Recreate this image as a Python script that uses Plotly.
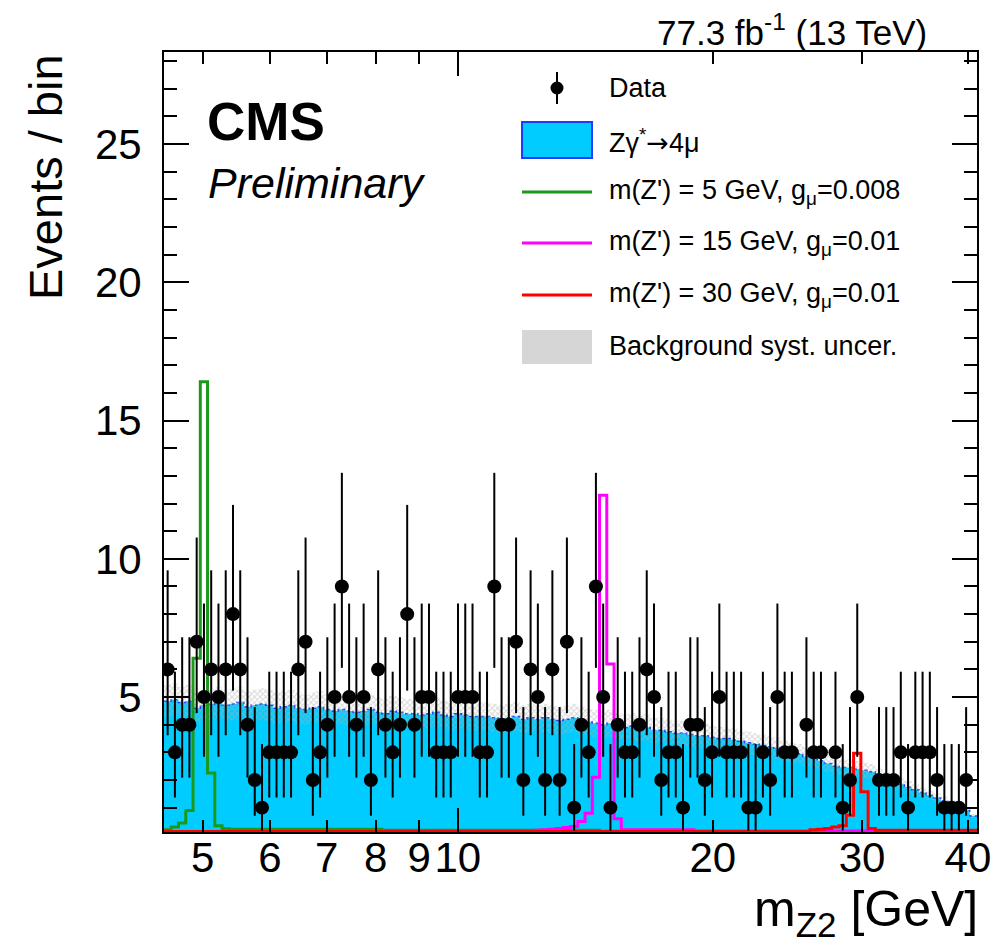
import numpy as np
import plotly.graph_objects as go

# ---------------- data ----------------
N_BINS = 112
X_MIN, X_MAX = 4.5, 41.0

data_counts = [6, 3, 4, 4, 7, 5, 6, 5, 6, 8,
               6, 4, 2, 1, 3, 3, 3, 3, 6, 7,
               2, 3, 4, 5, 9, 5, 4, 5, 2, 6,
               4, 3, 4, 8, 4, 5, 5, 3, 3, 3,
               5, 5, 5, 3, 3, 9, 4, 4, 7, 2,
               6, 5, 2, 6, 2, 7, 1, 4, 3, 9,
               5, 1, 4, 3, 3, 4, 6, 5, 2, 3,
               3, 1, 4, 4, 2, 3, 5, 3, 3, 3,
               1, 1, 3, 2, 5, 3, 3, 0, 4, 3,
               3, 0, 3, 1, 2, 5, 0, 0, 2, 2,
               2, 3, 1, 3, 3, 3, 2, 1, 1, 1,
               2, 0]

bkg_zgamma = [4.85, 4.9, 4.8, 4.85, 4.6,
              4.7, 4.75, 4.8, 4.7, 4.75, 4.8, 4.65, 4.7, 4.75, 4.7,
              4.6, 4.65, 4.7, 4.6, 4.55, 4.6, 4.65, 4.55, 4.5,
              4.55, 4.5, 4.45, 4.5, 4.55, 4.45, 4.4, 4.5, 4.45, 4.4,
              4.4, 4.35, 4.4, 4.45, 4.35, 4.3, 4.4, 4.35, 4.3, 4.3,
              4.3, 4.25, 4.2, 4.25, 4.3, 4.2, 4.25, 4.2, 4.25, 4.2, 4.15, 4.2, 4.25, 4.15,
              4.1, 4.05, 4.0, 4.05, 3.95,
              3.9, 3.95, 3.85, 3.9, 3.8, 3.8, 3.75,
              3.7, 3.7, 3.65, 3.6, 3.6, 3.55,
              3.5, 3.5, 3.45, 3.4, 3.35, 3.3,
              3.25, 3.2, 3.15, 3.05, 3.0, 2.95,
              2.85, 2.8, 2.7, 2.6, 2.5, 2.45,
              2.45, 2.4, 2.35, 2.3, 2.2, 2.05, 1.95, 1.85, 1.75, 1.65,
              1.55, 1.45, 1.35, 1.25, 1.15, 1.05, 0.9, 0.7]
bkg_syst_frac = 0.12

sig_5GeV = [0.2, 0.3, 0.45, 0.9, 6.4, 16.4, 2.25, 0.35, 0.25] + [0.22] * 21 + [0.18] * 30 + [0.15] * 52
sig_15GeV = [0.12] * 51 + [0.18, 0.2, 0.22, 0.25, 0.28, 0.32] + [0.5, 0.8, 2.1, 12.3, 6.2, 0.6] + [0.2] * 10 + [0.15] * 39
sig_30GeV = [0.14] * 89 + [0.2, 0.22, 0.25, 0.3, 0.35] + [0.73, 2.97, 1.58] + [0.25] + [0.18] * 14

# Garwood (Poisson 68%) intervals for small counts
POIS_LO = {1: 0.173, 2: 0.708, 3: 1.367, 4: 2.086, 5: 2.840, 6: 3.620, 7: 4.419, 8: 5.232, 9: 6.057}
POIS_HI = {1: 3.300, 2: 4.638, 3: 5.918, 4: 7.163, 5: 8.382, 6: 9.584, 7: 10.77, 8: 11.95, 9: 13.11}

x_ticks = [5, 6, 7, 8, 9, 10, 20, 30, 40]
y_ticks = [5, 10, 15, 20, 25]
Y_RANGE = [0.12, 28.33]

# ---------------- derived ----------------
edges = np.geomspace(X_MIN, X_MAX, N_BINS + 1)
centers = 0.5 * (edges[:-1] + edges[1:])


def step(vals):
    return list(edges), list(vals) + [vals[-1]]


FONT = "Liberation Sans, Arial, Helvetica, sans-serif"
CYAN = "#00ccff"
BLUE = "#1a3cff"
GREEN = "#1a991a"
MAGENTA = "#ff00ff"
RED = "#ff0000"

fig = go.Figure()

# background histogram
sx, sy = step(bkg_zgamma)
fig.add_trace(go.Scatter(x=sx, y=sy, mode="lines", line=dict(shape="hv", color=BLUE, width=1.5, dash="dot"),
                         fill="tozeroy", fillcolor=CYAN, hoverinfo="skip"))

# systematic band
lo = [b * (1 - bkg_syst_frac) for b in bkg_zgamma]
hi = [b * (1 + bkg_syst_frac) for b in bkg_zgamma]
lx, ly = step(lo)
hx, hy = step(hi)
fig.add_trace(go.Scatter(x=lx, y=ly, mode="lines", line=dict(shape="hv", width=0, color="rgba(0,0,0,0)"),
                         hoverinfo="skip"))
fig.add_trace(go.Scatter(x=hx, y=hy, mode="lines", line=dict(shape="hv", width=0, color="rgba(0,0,0,0)"),
                         fill="tonexty", fillcolor="rgba(0,0,0,0)",
                         fillpattern=dict(shape="x", fgcolor="#b0b0b0", bgcolor="rgba(0,0,0,0)", size=4,
                                          solidity=0.45),
                         hoverinfo="skip"))

# signals
for vals, col in [(sig_5GeV, GREEN), (sig_15GeV, MAGENTA), (sig_30GeV, RED)]:
    qx, qy = step(vals)
    fig.add_trace(go.Scatter(x=qx, y=qy, mode="lines", line=dict(shape="hv", color=col, width=3), hoverinfo="skip"))

# data
dx, dy, eu, ed = [], [], [], []
for c, n in zip(centers, data_counts):
    if n > 0:
        dx.append(c)
        dy.append(n)
        eu.append(POIS_HI[n] - n)
        ed.append(n - POIS_LO[n])
fig.add_trace(go.Scatter(x=dx, y=dy, mode="markers",
                         marker=dict(color="black", size=14, symbol="circle"),
                         error_y=dict(type="data", symmetric=False, array=eu, arrayminus=ed,
                                      width=0, thickness=2, color="black")))

# long tick at the decade (overlay axis)
fig.add_trace(go.Scatter(x=[X_MIN, X_MAX], y=[None, None], xaxis="x2", mode="lines", showlegend=False,
                         hoverinfo="skip"))

# ---------------- layout ----------------
L, R, T, B = 164, 977, 52, 832
W, H = R - L, B - T


def px(x):
    return (x - L) / W


def py(y):
    return (B - y) / H


axis_common = dict(showline=True, linecolor="black", linewidth=2, mirror="ticks", ticks="inside",
                   tickcolor="black", tickwidth=2, showgrid=False, zeroline=False)

fig.update_layout(
    width=1004, height=947,
    margin=dict(l=L, r=1004 - R, t=T, b=947 - B),
    paper_bgcolor="white", plot_bgcolor="white",
    showlegend=False,
    font=dict(family=FONT, color="black"),
    xaxis=dict(type="log", range=[np.log10(X_MIN), np.log10(X_MAX)],
               tickvals=x_ticks, ticktext=[str(v) for v in x_ticks], ticklen=12,
               tickfont=dict(size=42, family=FONT), **axis_common),
    xaxis2=dict(type="log", range=[np.log10(X_MIN), np.log10(X_MAX)], overlaying="x", matches="x",
                tickvals=[10], ticklen=24, showticklabels=False, ticks="inside", tickcolor="black",
                tickwidth=2, showgrid=False, zeroline=False, showline=False, mirror="ticks", side="bottom"),
    yaxis=dict(range=Y_RANGE, tickvals=y_ticks, ticktext=[str(v) for v in y_ticks], ticklen=25,
               tickfont=dict(size=42, family=FONT), ticklabelstandoff=12,
               minor=dict(dtick=1, tick0=0, ticklen=13, ticks="inside", tickcolor="black", tickwidth=2),
               **axis_common),
)
try:
    fig.layout.xaxis.ticklabelstandoff = -12
except ValueError:
    fig.layout.xaxis.ticklabelstandoff = 0

ann = []
shapes = []
# texts
ann.append(dict(text="<b>CMS</b>", x=px(205), y=py(121), xref="paper", yref="paper", xanchor="left",
                yanchor="middle", showarrow=False, font=dict(size=53, family=FONT)))
ann.append(dict(text="<i>Preliminary</i>", x=px(206), y=py(183), xref="paper", yref="paper", xanchor="left",
                yanchor="middle", showarrow=False, font=dict(size=43, family=FONT)))
ann.append(dict(text="77.3 fb<sup>-1</sup> (13 TeV)", x=px(929), y=py(30), xref="paper", yref="paper",
                xanchor="right", yanchor="middle", showarrow=False, font=dict(size=35, family=FONT)))
ann.append(dict(text="Events / bin", x=px(45), y=py(52), xref="paper", yref="paper", xanchor="center",
                yanchor="top", textangle=-90, showarrow=False, font=dict(size=47, family=FONT)))
ann.append(dict(text="m<sub>Z2</sub> [GeV]", x=px(980), y=py(912), xref="paper", yref="paper", xanchor="right",
                yanchor="middle", showarrow=False, font=dict(size=50, family=FONT)))

# legend
LEG_TX = 607
leg_rows = [("Data", 88),
            ("Zγ<sup>*</sup><span style=\"font-family:DejaVu Sans\">→</span>4μ", 141),
            ("m(Z') = 5 GeV, g<sub>μ</sub>=0.008", 192),
            ("m(Z') = 15 GeV, g<sub>μ</sub>=0.01", 243), ("m(Z') = 30 GeV, g<sub>μ</sub>=0.01", 295),
            ("Background syst. uncer.", 346)]
for txt, yc in leg_rows:
    ann.append(dict(text=txt, x=px(LEG_TX), y=py(yc), xref="paper", yref="paper", xanchor="left",
                    yanchor="middle", showarrow=False, font=dict(size=27, family=FONT)))

# data symbol
shapes.append(dict(type="line", xref="paper", yref="paper", x0=px(557), x1=px(557), y0=py(72), y1=py(104),
                   line=dict(color="black", width=2)))
shapes.append(dict(type="circle", xref="paper", yref="paper", x0=px(550.5), x1=px(563.5), y0=py(94.5), y1=py(81.5),
                   fillcolor="black", line=dict(color="black", width=0)))
# background box
shapes.append(dict(type="rect", xref="paper", yref="paper", x0=px(522), x1=px(592), y0=py(158), y1=py(122),
                   fillcolor=CYAN, line=dict(color=BLUE, width=2)))
# signal lines
for yc, col in [(192, GREEN), (243, MAGENTA), (295, RED)]:
    shapes.append(dict(type="line", xref="paper", yref="paper", x0=px(522), x1=px(592), y0=py(yc), y1=py(yc),
                       line=dict(color=col, width=3)))
# syst box
shapes.append(dict(type="rect", xref="paper", yref="paper", x0=px(522), x1=px(592), y0=py(364), y1=py(330),
                   fillcolor="#d6d6d6", line=dict(width=0)))

fig.update_layout(annotations=ann, shapes=shapes)
fig.write_html("out.html")
